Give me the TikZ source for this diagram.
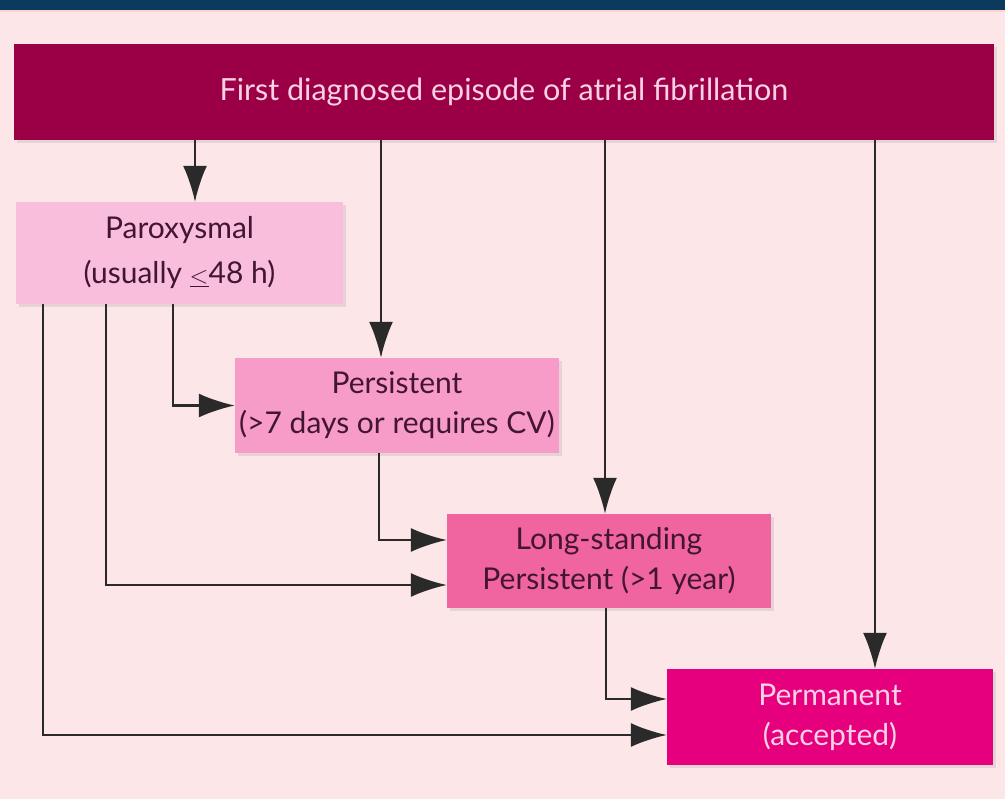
\documentclass[tikz,border=0pt]{standalone}
\usepackage{fontspec}
\setmainfont{Lato}
\usepackage{tikz}
\usetikzlibrary{arrows.meta,shadows}

\definecolor{bgpink}{HTML}{FCE6E8}
\definecolor{bandblue}{HTML}{0B3A5E}
\definecolor{afred}{HTML}{9B0046}
\definecolor{paroxfill}{HTML}{F9BEDC}
\definecolor{persistfill}{HTML}{F79BC8}
\definecolor{longfill}{HTML}{F0649F}
\definecolor{permfill}{HTML}{E6007E}
\definecolor{darktext}{HTML}{421530}
\definecolor{lighttext}{HTML}{FAD2E4}
\definecolor{linegray}{HTML}{2A2A2A}

\begin{document}
\begin{tikzpicture}[
  x=1pt, y=-1pt,
  stage/.style={rectangle, align=center, inner sep=0pt, text=darktext,
    font=\fontsize{30}{40}\selectfont,
    drop shadow={shadow xshift=3pt, shadow yshift=-3pt, opacity=0.18, fill=black!50}},
  arrow/.style={-{Latex[length=36pt,width=24pt]}, line width=2.4pt, draw=linegray}
]
  \useasboundingbox (0,0) rectangle (1005,799);
  \fill[bgpink] (0,0) rectangle (1005,799);
  \fill[bandblue] (0,0) rectangle (1005,10);
  \fill[pink!70!white] (0,10) rectangle (1005,12);

  \node[stage, fill=afred, text=lighttext, minimum width=980pt, minimum height=96pt,
    font=\fontsize{30.5}{36}\selectfont] (top) at (504,92) {First diagnosed episode of atrial fibrillation};
  \node[stage, fill=paroxfill, minimum width=327pt, minimum height=102pt,
    font=\fontsize{30}{45}\selectfont] (parox) at (179.5,253) {Paroxysmal\\(usually $\underline{<}$48 h)};
  \node[stage, fill=persistfill, minimum width=324pt, minimum height=95pt] (persist) at (397,405.5) {Persistent\\(>7 days or requires CV)};
  \node[stage, fill=longfill, minimum width=324pt, minimum height=94pt] (longst) at (609,561) {Long-standing\\Persistent (>1 year)};
  \node[stage, fill=permfill, text=lighttext, minimum width=326pt, minimum height=96pt] (perm) at (830,717) {Permanent\\(accepted)};

  % from the first episode
  \draw[arrow] ([xshift=15.5pt]parox.north |- top.south) -- ([xshift=15.5pt]parox.north);
  \draw[arrow] ([xshift=-16pt]persist.north |- top.south) -- ([xshift=-16pt]persist.north);
  \draw[arrow] ([xshift=-4pt]longst.north |- top.south) -- ([xshift=-4pt]longst.north);
  \draw[arrow] ([xshift=45pt]perm.north |- top.south) -- ([xshift=45pt]perm.north);

  % progression
  \draw[arrow] ([xshift=-6.5pt]parox.south) |- (persist.west);
  \draw[arrow] ([xshift=-73.5pt]parox.south) |- ([yshift=-24pt]longst.west);
  \draw[arrow] ([xshift=-136.5pt]parox.south) |- ([yshift=-18pt]perm.west);
  \draw[arrow] ([xshift=-18pt]persist.south) |- ([yshift=21pt]longst.west);
  \draw[arrow] ([xshift=-3pt]longst.south) |- ([yshift=18pt]perm.west);
\end{tikzpicture}
\end{document}
